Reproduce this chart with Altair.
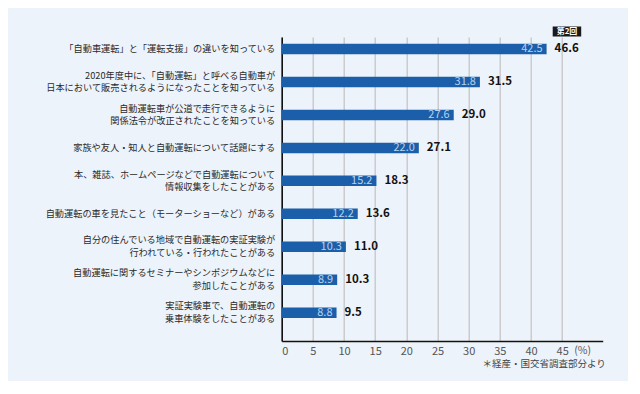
import altair as alt
import pandas as pd

categories = [
    "「自動車運転」と「運転支援」の違いを知っている",
    "2020年度中に、「自動運転」と呼べる自動車が\n日本において販売されるようになったことを知っている",
    "自動運転車が公道で走行できるように\n関係法令が改正されたことを知っている",
    "家族や友人・知人と自動運転について話題にする",
    "本、雑誌、ホームページなどで自動運転について\n情報収集をしたことがある",
    "自動運転の車を見たこと（モーターショーなど）がある",
    "自分の住んでいる地域で自動運転の実証実験が\n行われている・行われたことがある",
    "自動運転に関するセミナーやシンポジウムなどに\n参加したことがある",
    "実証実験車で、自動運転の\n乗車体験をしたことがある",
]
first_survey = [42.5, 31.8, 27.6, 22.0, 15.2, 12.2, 10.3, 8.9, 8.8]
second_survey = [46.6, 31.5, 29.0, 27.1, 18.3, 13.6, 11.0, 10.3, 9.5]
x_ticks = [0, 5, 10, 15, 20, 25, 30, 35, 40, 45]
badge_text = "第2回"
unit_text = "(%)"
footnote = "＊経産・国交省調査部分より"

FONT = "Noto Sans CJK JP"
W, H = 321, 304
LH = 12.7

df = pd.DataFrame({"cat": categories, "first": first_survey, "second": second_survey})

x_scale = alt.Scale(domain=[0, 51.5], nice=False, zero=True)
x_axis = alt.Axis(
    values=x_ticks, title=None, grid=True, gridColor="#c6c6c6", gridWidth=1.3,
    ticks=False, domainColor="#111111", domainWidth=1.6, labelFontSize=11,
    labelColor="#555555", labelPadding=4, labelFont=FONT, labelOverlap=False,
)
x_enc = alt.X("first:Q", scale=x_scale, axis=x_axis)
y_enc = alt.Y(
    "cat:N", sort=None,
    scale=alt.Scale(paddingInner=0.681, paddingOuter=0.452, align=0.227),
    axis=alt.Axis(
        title=None, ticks=False, domainColor="#111111", domainWidth=1.6,
        labelAlign="right", labelBaseline="middle", labelPadding=7,
        labelFontSize=9.2, labelColor="#2a2a2a", labelFont=FONT,
        labelLineHeight=LH, labelLimit=400,
        labelOffset={"condition": {"test": "indexof(datum.label, '\\n') >= 0",
                                   "value": -LH / 2}, "value": 0},
        labelExpr="split(datum.label, '\\n')", grid=False,
    ),
)

base = alt.Chart(df)
bars = base.mark_bar(color="#1b5faa").encode(x=x_enc, y=y_enc)
inner = base.mark_text(align="right", baseline="middle", dx=-4, fontSize=11,
                       color="#b3d3f2", font=FONT).encode(
    x=x_enc, y=y_enc, text=alt.Text("first:Q", format=".1f"))
outer = base.mark_text(align="left", baseline="middle", dx=8, fontSize=11.5,
                       fontWeight="bold", color="#111111", font=FONT).encode(
    x=x_enc, y=y_enc, text=alt.Text("second:Q", format=".1f"))

ann = pd.DataFrame({"t": [badge_text]})
badge_rect = alt.Chart(ann).mark_rect(color="#1a1a1a").encode(
    x=alt.value(271), x2=alt.value(299.5), y=alt.value(-10.5), y2=alt.value(-0.5))
badge_txt = alt.Chart(ann).mark_text(align="center", baseline="middle", fontSize=8,
                                     fontWeight="bold", color="white", font=FONT).encode(
    x=alt.value(285.3), y=alt.value(-5.3), text="t:N")

unit = alt.Chart(pd.DataFrame({"t": [unit_text]})).mark_text(
    align="left", baseline="middle", dx=12, fontSize=10.5, color="#555555", font=FONT).encode(
    x=alt.XDatum(45, type="quantitative", scale=x_scale, axis=x_axis),
    y=alt.value(H + 10), text="t:N")
note = alt.Chart(pd.DataFrame({"t": [footnote]})).mark_text(
    align="right", baseline="middle", fontSize=9.5, color="#444444", font=FONT).encode(
    x=alt.value(W + 3), y=alt.value(H + 23), text="t:N")

chart = alt.layer(bars, inner, outer, badge_rect, badge_txt, unit, note).properties(
    width=W, height=H,
    autosize=alt.AutoSizeParams(type="none"),
    padding={"left": 273.7, "top": 29, "right": 25.3, "bottom": 40},
    background="#edf3fa",
).configure_view(stroke=None)

chart.save("out.html", embed_options={"renderer": "svg", "actions": False})
